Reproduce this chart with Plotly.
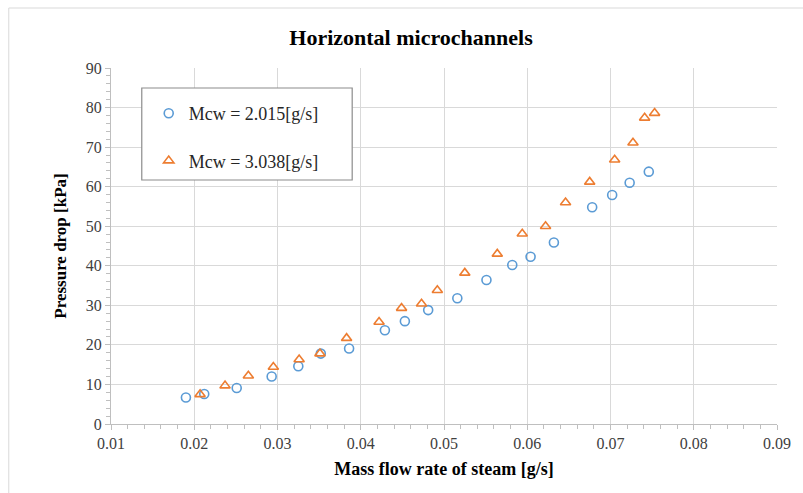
import plotly.graph_objects as go

# Data
x_mcw1 = [0.0190, 0.0212, 0.0251, 0.0293, 0.0325, 0.0352, 0.0386, 0.0429, 0.0453,
          0.0481, 0.0516, 0.0551, 0.0582, 0.0604, 0.0632, 0.0678, 0.0702, 0.0723, 0.0746]
y_mcw1 = [6.7, 7.6, 9.1, 12.0, 14.6, 17.8, 19.1, 23.7, 26.0,
          28.8, 31.8, 36.4, 40.2, 42.3, 45.9, 54.8, 57.9, 61.0, 63.8]

x_mcw2 = [0.0207, 0.0237, 0.0265, 0.0295, 0.0326, 0.0351, 0.0383, 0.0422, 0.0449,
          0.0473, 0.0492, 0.0525, 0.0564, 0.0594, 0.0622, 0.0646, 0.0675, 0.0705,
          0.0727, 0.0741, 0.0753]
y_mcw2 = [7.5, 9.7, 12.2, 14.4, 16.3, 17.8, 21.7, 25.8, 29.3,
          30.4, 33.8, 38.2, 43.0, 48.1, 50.0, 56.0, 61.2, 66.8,
          71.1, 77.4, 78.6]

name1 = "Mcw = 2.015[g/s]"
name2 = "Mcw = 3.038[g/s]"
title = "Horizontal microchannels"
x_title = "Mass flow rate of steam [g/s]"
y_title = "Pressure drop [kPa]"

SERIF = "Liberation Serif"

fig = go.Figure()
fig.add_trace(go.Scatter(
    x=x_mcw1, y=y_mcw1, mode="markers", name=name1, legendgroup="a",
    marker=dict(symbol="circle-open", size=9, color="#5B9BD5",
                line=dict(width=1.6, color="#5B9BD5"))))
fig.add_trace(go.Scatter(
    x=x_mcw2, y=y_mcw2, mode="markers", name=name2, legendgroup="b",
    marker=dict(symbol="triangle-up-open", size=9, color="#ED7D31",
                line=dict(width=1.6, color="#ED7D31"))))

L, R, T, B = 111, 21, 68, 69
W, H = 803, 493
pw = W - L - R
ph = H - T - B

def px2x(px):
    return (px - L) / pw

def px2y(py):
    return (H - B - py) / ph

shapes = [
    # outer chart border
    dict(type="rect", xref="paper", yref="paper",
         x0=px2x(8), x1=px2x(812), y0=px2y(500), y1=px2y(8),
         line=dict(color="#D9D9D9", width=1), layer="below"),
    # legend box
    dict(type="rect", xref="paper", yref="paper",
         x0=px2x(142), x1=px2x(354), y0=px2y(180), y1=px2y(88),
         line=dict(color="#8C8C8C", width=1.2), fillcolor="white", layer="above"),
]

fig.update_layout(
    width=W, height=H,
    margin=dict(l=L, r=R, t=T, b=B),
    paper_bgcolor="white", plot_bgcolor="white",
    font=dict(family=SERIF, color="#404040", size=16),
    title=dict(text="<b>" + title + "</b>", x=411 / W, xref="container",
               xanchor="center", y=1 - 37 / H, yref="container", yanchor="middle",
               font=dict(family=SERIF, size=22, color="#000000")),
    showlegend=True,
    legend=dict(x=px2x(149), y=px2y(95), xanchor="left", yanchor="top",
                bgcolor="rgba(0,0,0,0)", borderwidth=0,
                font=dict(family=SERIF, size=18, color="#262626"),
                tracegroupgap=21, itemwidth=30),
    shapes=shapes,
)

fig.update_xaxes(
    range=[0.01, 0.09], dtick=0.01, tick0=0.01, tickformat=".2f",
    showgrid=True, gridcolor="#D9D9D9", gridwidth=1,
    showline=True, linecolor="#BFBFBF", linewidth=1,
    ticks="outside", ticklen=5, tickcolor="#BFBFBF",
    minor=dict(dtick=0.002, ticks="outside", ticklen=4, tickcolor="#BFBFBF", showgrid=False),
    tickfont=dict(family=SERIF, size=16, color="#404040"),
    title=dict(text="<b>" + x_title + "</b>", standoff=11,
               font=dict(family=SERIF, size=18, color="#000000")),
    zeroline=False, mirror=False,
)
fig.update_yaxes(
    range=[0, 90], dtick=10, tick0=0,
    showgrid=True, gridcolor="#D9D9D9", gridwidth=1,
    showline=True, linecolor="#BFBFBF", linewidth=1,
    ticks="outside", ticklen=5, tickcolor="#BFBFBF",
    minor=dict(dtick=2, ticks="outside", ticklen=4, tickcolor="#BFBFBF", showgrid=False),
    tickfont=dict(family=SERIF, size=16, color="#404040"),
    title=dict(text="<b>" + y_title + "</b>", standoff=14,
               font=dict(family=SERIF, size=17, color="#000000")),
    zeroline=False,
)

fig.write_html("out.html")
